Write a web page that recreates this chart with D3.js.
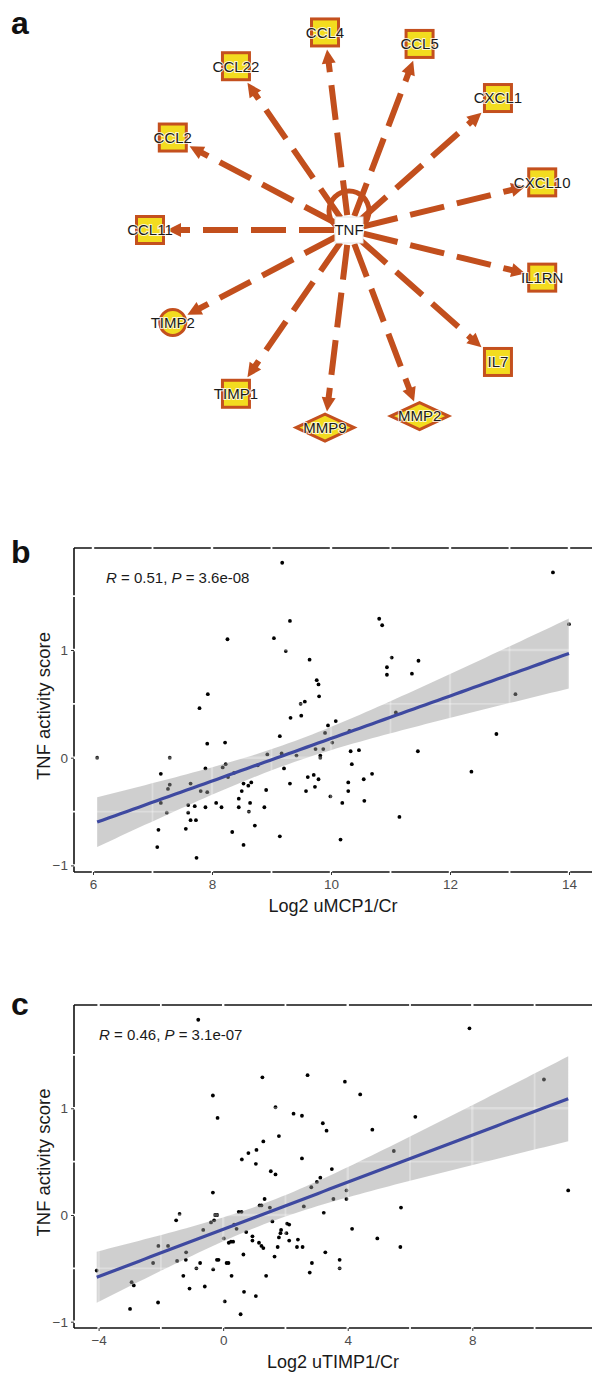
<!DOCTYPE html>
<html>
<head>
<meta charset="utf-8">
<script src="https://cdn.jsdelivr.net/npm/d3@7"></script>
<style>
body { margin: 0; background: #fff; }
svg { display: block; font-family: Arial, "Liberation Sans", sans-serif; }
</style>
</head>
<body>
<svg id="fig" width="592" height="1374"></svg>
<script>
// ---- panel a: TNF regulator network ----
var hub = "TNF";
var targets = ["CCL11", "CCL2", "CCL22", "CCL4", "CCL5", "CXCL1", "CXCL10", "IL1RN", "IL7", "MMP2", "MMP9", "TIMP1", "TIMP2"];
var shapes  = ["square", "square", "square", "square", "square", "square", "square", "square", "square", "diamond", "diamond", "square", "circle"];

// ---- panel b: log2 uMCP1/Cr vs TNF activity score ----
var uMCP1 = [6.07, 7.14, 7.29, 7.29, 7.26, 7.14, 7.24, 7.10, 7.08, 7.74, 7.56, 7.73, 7.64, 7.60, 7.60, 7.71, 7.64, 7.81, 7.92, 7.89,
  7.89, 7.92, 7.79, 7.93, 8.26, 8.07, 8.16, 8.22, 8.18, 8.23, 8.27, 8.37, 8.34, 8.53, 8.45, 8.45, 8.50, 8.53, 8.61, 8.66,
  8.64, 8.62, 8.72, 8.77, 8.88, 8.91, 8.93, 9.04, 9.14, 9.14, 9.17, 9.21, 9.31, 9.31, 9.24, 9.32, 9.42, 9.50, 9.49, 9.56,
  9.64, 9.61, 9.71, 9.58, 9.73, 9.79, 9.74, 9.82, 9.82, 9.87, 9.76, 9.79, 9.80, 9.90, 9.95, 10.02, 10.08, 9.99, 10.16, 9.18,
  10.31, 10.33, 10.47, 10.35, 10.69, 10.55, 10.81, 10.86, 11.02, 10.94, 10.94, 11.36, 11.47, 11.09, 11.46, 12.36, 12.78, 13.10, 13.73, 14.00,
  10.19, 10.29, 10.29, 10.56, 11.15];
var tnfB = [0.00, -0.15, 0.00, -0.25, -0.29, -0.42, -0.51, -0.67, -0.83, -0.93, -0.66, -0.58, -0.58, -0.51, -0.44, -0.45, -0.24, -0.31, -0.32, -0.10,
  -0.46, 0.13, 0.46, 0.59, 1.10, -0.42, -0.46, 0.14, -0.09, -0.06, -0.18, -0.14, -0.69, -0.81, -0.38, -0.46, -0.31, -0.24, -0.26, -0.23,
  -0.42, -0.50, -0.63, -0.07, -0.46, -0.30, 0.03, 1.11, 0.20, -0.73, 0.04, -0.10, -0.24, 1.27, 0.99, 0.37, 0.02, 0.39, 0.50, 0.52,
  0.91, -0.18, -0.16, -0.31, -0.27, -0.20, 0.08, 0.02, 0.00, 0.08, 0.72, 0.68, 0.57, 0.23, 0.30, 0.14, 0.34, -0.36, -0.76, 1.81,
  0.25, 0.06, 0.07, -0.06, -0.15, -0.20, 1.29, 1.23, 0.93, 0.84, 0.77, 0.78, 0.90, 0.42, 0.06, -0.13, 0.22, 0.59, 1.72, 1.24,
  -0.42, -0.31, -0.23, -0.40, -0.55];
var statB = ["0.51", "3.6e-08"];

// ---- panel c: log2 uTIMP1/Cr vs TNF activity score ----
var uTIMP1 = [-4.06, -2.94, -2.87, -2.99, -2.09, -2.25, -2.08, -1.77, -1.51, -1.40, -1.48, -1.19, -1.20, -1.28, -1.08, -0.86, -0.74, -0.59, -0.64, -0.33,
  -0.18, -0.33, -0.39, -0.29, -0.26, -0.19, -0.32, -0.20, -0.15, 0.02, 0.05, 0.11, 0.17, 0.18, 0.25, 0.32, 0.27, 0.35, 0.43, 0.56,
  0.50, 0.59, 0.60, 0.65, 0.67, 0.74, 0.81, 0.94, 0.94, 1.05, 1.07, 1.05, 1.17, 1.23, 1.26, 1.29, 1.33, 1.15, 1.23, 1.29,
  1.38, 1.50, 1.53, 1.68, 1.58, 1.65, 1.68, 1.79, 1.75, 1.79, 1.84, 1.86, 2.05, 2.12, 2.03, 2.12, 2.26, 2.53, 2.53, 2.37,
  2.55, 2.40, 2.59, 2.71, 2.83, 2.85, 2.78, 3.01, 3.12, 3.20, 3.32, 3.23, 3.28, 3.49, 3.54, 3.74, 3.74, 3.91, 4.40, 4.79,
  6.17, 5.48, 3.96, 3.96, 7.91, 10.30, 11.08, 4.14, 4.95, 5.71, 5.69, -0.80];
var tnfC = [-0.52, -0.63, -0.66, -0.88, -0.82, -0.45, -0.29, -0.29, -0.05, 0.01, -0.43, -0.35, -0.42, -0.57, -0.69, -0.50, -0.45, -0.67, -0.14, 1.12,
  0.91, 0.21, -0.07, -0.05, 0.00, 0.00, -0.51, -0.42, -0.42, -0.22, -0.81, -0.45, -0.45, -0.26, -0.25, -0.25, -0.57, -0.09, -0.13, -0.93,
  0.03, 0.03, 0.52, -0.37, -0.72, -0.16, 0.58, -0.20, -0.24, -0.76, 0.61, 0.48, 0.09, 0.09, 1.29, 0.69, 0.15, -0.26, -0.29, -0.31,
  -0.57, 0.07, 0.41, 0.38, -0.06, -0.39, 1.01, 0.74, -0.30, -0.21, -0.17, -0.14, -0.08, -0.09, -0.17, -0.24, 0.95, 0.93, 0.53, -0.30,
  -0.30, -0.23, 0.08, 1.31, 0.26, -0.45, -0.54, 0.31, 0.35, 0.86, 0.79, 0.02, -0.35, 0.43, 0.15, -0.42, -0.50, 1.25, 1.13, 0.80,
  0.92, 0.60, 0.23, 0.15, 1.75, 1.27, 0.23, -0.13, -0.22, 0.07, -0.30, 1.83];
var statC = ["0.46", "3.1e-07"];

var yTicks = [-1, 0, 1];
var yMinor = [-0.5, 0.5, 1.5];

var svg = d3.select("#fig");

var edgeCol = "#c24f1d",
    nodeFill = "#f3dc1f",
    nodeStroke = "#c4501e";

// panel letters
[["a", 34], ["b", 563], ["c", 1015]].forEach(function(p) {
  svg.append("text").attr("x", 11).attr("y", p[1])
    .attr("font-size", 32).attr("font-weight", "bold").attr("fill", "#111")
    .text(p[0]);
});

// ---------- network ----------
var net = svg.append("g");
var cx = 349, cy = 230, ring = 199;
var angle = d3.scaleLinear().domain([0, targets.length]).range([Math.PI, Math.PI - 2 * Math.PI]);

var nodes = targets.map(function(name, i) {
  var a = angle(i);
  return {name: name, shape: shapes[i], a: a, x: cx + ring * Math.cos(a), y: cy - ring * Math.sin(a)};
});

function boundary(n) {
  var c = Math.abs(Math.cos(n.a)), s = Math.abs(Math.sin(n.a));
  if (n.shape == "circle") return 14.5;
  if (n.shape == "diamond") return 1 / (c / 31 + s / 15);
  return 15 / Math.max(c, s);
}

// self loop on TNF
net.append("circle")
  .attr("cx", cx).attr("cy", cy - 19).attr("r", 20)
  .attr("fill", "none").attr("stroke", edgeCol).attr("stroke-width", 5);

nodes.forEach(function(n) {
  var ux = Math.cos(n.a), uy = -Math.sin(n.a);
  var tip = ring - boundary(n) - 2;
  var alen = 14, aw = 7;
  net.append("line")
    .attr("x1", cx).attr("y1", cy)
    .attr("x2", cx + ux * (tip - alen + 2)).attr("y2", cy + uy * (tip - alen + 2))
    .attr("stroke", edgeCol).attr("stroke-width", 6)
    .attr("stroke-dasharray", "35,13").attr("stroke-dashoffset", 33);
  var tx = cx + ux * tip, ty = cy + uy * tip;
  var bx = cx + ux * (tip - alen), by = cy + uy * (tip - alen);
  net.append("path")
    .attr("d", "M" + tx + "," + ty + "L" + (bx - uy * aw) + "," + (by + ux * aw) +
      "L" + (bx + uy * aw) + "," + (by - ux * aw) + "Z")
    .attr("fill", edgeCol);
});

// hub node
net.append("rect")
  .attr("x", cx - 14).attr("y", cy - 13).attr("width", 28).attr("height", 26)
  .attr("fill", "#fff").attr("stroke", "#e4e4e4").attr("stroke-width", 1);

// target nodes
nodes.forEach(function(n) {
  var g = net.append("g").attr("transform", "translate(" + n.x + "," + n.y + ")");
  var shp;
  if (n.shape == "circle") {
    shp = g.append("circle").attr("r", 13);
  } else if (n.shape == "diamond") {
    shp = g.append("path").attr("d", "M-29,0L0,-13.5L29,0L0,13.5Z");
  } else {
    shp = g.append("rect").attr("x", -13.5).attr("y", -13.5).attr("width", 27).attr("height", 27);
  }
  shp.attr("fill", nodeFill).attr("stroke", nodeStroke).attr("stroke-width", 3);
});

// node labels
var labels = [{name: hub, x: cx, y: cy}].concat(nodes);
net.selectAll(".nlab").data(labels).enter().append("text")
  .attr("class", "nlab")
  .attr("x", function(d) { return d.x; })
  .attr("y", function(d) { return d.y; })
  .attr("dy", "0.36em")
  .attr("text-anchor", "middle")
  .attr("font-size", 15)
  .attr("fill", "#1b1b1b")
  .attr("stroke", "#fff").attr("stroke-width", 2).attr("stroke-opacity", 0.8)
  .attr("paint-order", "stroke")
  .text(function(d) { return d.name; });

// ---------- scatter panels ----------
function lmFit(xs, ys) {
  var N = xs.length, mx = d3.mean(xs), my = d3.mean(ys), sxx = 0, sxy = 0;
  xs.forEach(function(x, i) { sxx += (x - mx) * (x - mx); sxy += (x - mx) * (ys[i] - my); });
  var b = sxy / sxx, a = my - b * mx, sse = 0;
  xs.forEach(function(x, i) { var r = ys[i] - (a + b * x); sse += r * r; });
  var s = Math.sqrt(sse / (N - 2)), t = 1.98;
  var ext = d3.extent(xs);
  return d3.range(80).map(function(k) {
    var x = ext[0] + (ext[1] - ext[0]) * k / 79, f = a + b * x;
    var se = s * Math.sqrt(1 / N + (x - mx) * (x - mx) / sxx);
    return {x: x, f: f, lo: f - t * se, hi: f + t * se};
  });
}

function scatter(cfg) {
  var g = svg.append("g");
  var x = d3.scaleLinear().domain(cfg.xDomain).range(cfg.xRange);
  var y = d3.scaleLinear().domain([-1, 1]).range(cfg.yRange);
  var L = cfg.left, T = cfg.top, B = cfg.bottom, R = 592;
  var clipId = "clip" + cfg.id;
  svg.append("clipPath").attr("id", clipId).append("rect")
    .attr("x", L + 1).attr("y", T + 1).attr("width", R - L).attr("height", B - T - 2);

  // frame lines
  g.append("line").attr("x1", L).attr("x2", R).attr("y1", T).attr("y2", T);
  g.append("line").attr("x1", L).attr("x2", L).attr("y1", T).attr("y2", B);
  g.append("line").attr("x1", L).attr("x2", R).attr("y1", B).attr("y2", B);
  g.selectAll("line").attr("stroke", "#111").attr("stroke-width", 1.6);

  // white grid (cuts the frame)
  var grid = g.append("g");
  function drawGrid(sel, op) {
    sel.selectAll(".vg").data(cfg.xMajor.concat(cfg.xMinor)).enter().append("line")
      .attr("x1", function(d) { return x(d); }).attr("x2", function(d) { return x(d); })
      .attr("y1", T - 2).attr("y2", B + 1.5)
      .attr("stroke-width", function(d) { return cfg.xMajor.indexOf(d) >= 0 ? 2.4 : 1.8; });
    sel.selectAll(".hg").data(yTicks.concat(yMinor)).enter().append("line")
      .attr("x1", L - 1.5).attr("x2", R)
      .attr("y1", function(d) { return y(d); }).attr("y2", function(d) { return y(d); })
      .attr("stroke-width", function(d) { return yTicks.indexOf(d) >= 0 ? 2.4 : 1.8; });
    sel.selectAll("line").attr("stroke", "#fff").attr("stroke-opacity", op);
  }
  drawGrid(grid, 1);

  var inner = g.append("g").attr("clip-path", "url(#" + clipId + ")");
  var pts = cfg.xs.map(function(v, i) { return [v, cfg.ys[i]]; });
  inner.selectAll("circle").data(pts).enter().append("circle")
    .attr("cx", function(d) { return x(d[0]); })
    .attr("cy", function(d) { return y(d[1]); })
    .attr("r", 1.9).attr("fill", "#000");

  var fit = lmFit(cfg.xs, cfg.ys);
  inner.append("path").datum(fit)
    .attr("d", d3.area().x(function(d) { return x(d.x); })
      .y0(function(d) { return y(d.lo); }).y1(function(d) { return y(d.hi); }))
    .attr("fill", "#999").attr("fill-opacity", 0.47);
  drawGrid(inner.append("g"), 0.3);
  inner.append("path").datum(fit)
    .attr("d", d3.line().x(function(d) { return x(d.x); }).y(function(d) { return y(d.f); }))
    .attr("fill", "none").attr("stroke", "#3e49a0").attr("stroke-width", 3.2);

  // axes
  var xAxis = d3.axisBottom(x).tickValues(cfg.xMajor).tickSize(3).tickPadding(4)
    .tickFormat(function(d) { return d < 0 ? "\u2212" + Math.abs(d) : d; });
  var ax = g.append("g").attr("transform", "translate(0," + B + ")").call(xAxis);
  var yAxis = d3.axisLeft(y).tickValues(yTicks).tickSize(3).tickPadding(3)
    .tickFormat(function(d) { return d < 0 ? "\u2212" + Math.abs(d) : d; });
  var ay = g.append("g").attr("transform", "translate(" + L + ",0)").call(yAxis);
  [ax, ay].forEach(function(a) {
    a.select(".domain").remove();
    a.selectAll(".tick line").attr("stroke", "#333").attr("stroke-width", 1);
    a.selectAll(".tick text").attr("fill", "#4d4d4d").attr("font-size", 13.5)
      .attr("font-family", "Arial, 'Liberation Sans', sans-serif");
  });

  // stat label
  var st = g.append("text").attr("x", cfg.statX).attr("y", T + 35)
    .attr("font-size", 15).attr("fill", "#1a1a1a");
  st.append("tspan").attr("font-style", "italic").text("R");
  st.append("tspan").text(" = " + cfg.stat[0] + ", ");
  st.append("tspan").attr("font-style", "italic").text("P");
  st.append("tspan").text(" = " + cfg.stat[1]);

  // titles
  g.append("text").attr("x", (L + R) / 2).attr("y", B + 40)
    .attr("text-anchor", "middle").attr("font-size", 18).attr("fill", "#1a1a1a")
    .text(cfg.xTitle);
  g.append("text").attr("transform", "translate(50," + ((T + B) / 2 - 4) + ") rotate(-90)")
    .attr("text-anchor", "middle").attr("font-size", 18.5).attr("fill", "#1a1a1a")
    .text("TNF activity score");
}

scatter({
  id: "b", xs: uMCP1, ys: tnfB, stat: statB, xTitle: "Log2 uMCP1/Cr",
  xDomain: [6, 14], xRange: [93, 569], yRange: [865.4, 650],
  xMajor: [6, 8, 10, 12, 14], xMinor: [7, 9, 11, 13],
  left: 74, top: 548, bottom: 872, statX: 106
});

scatter({
  id: "c", xs: uTIMP1, ys: tnfC, stat: statC, xTitle: "Log2 uTIMP1/Cr",
  xDomain: [-4, 8], xRange: [98.6, 472.3], yRange: [1321.7, 1108.3],
  xMajor: [-4, 0, 4, 8], xMinor: [-2, 2, 6, 10],
  left: 74, top: 1005, bottom: 1328, statX: 99
});
</script>
</body>
</html>
